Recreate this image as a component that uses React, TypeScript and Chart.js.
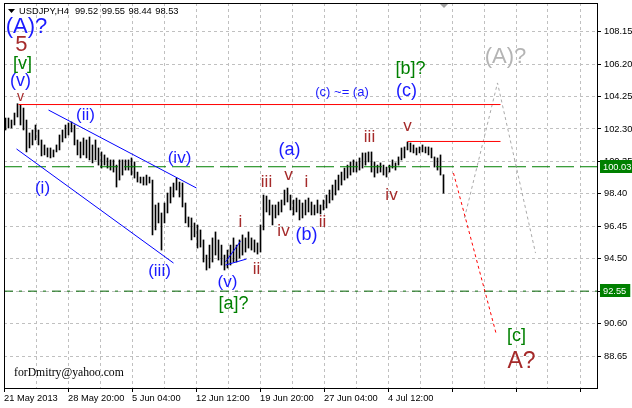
import React, { useEffect, useRef } from 'react';
import { Chart, registerables } from 'chart.js';

Chart.register(...registerables);

// ---------- data ----------
const symbolName = 'USDJPY,H4';

const barHighs: number[] = [
  102.96, 102.96, 102.84, 103.26, 103.82, 103.74, 103.56, 102.84, 102.06, 102.24,
  102.54, 102.24, 101.64, 101.34, 101.16, 101.16, 101.04, 101.34, 101.94, 102.24,
  102.54, 102.66, 102.72, 102.54, 101.64, 101.52, 101.76, 101.64, 101.82, 101.34,
  101.64, 101.16, 100.92, 100.74, 100.56, 100.44, 100.44, 100.13, 100.44, 100.44,
  100.44, 100.44, 100.56, 100.32, 99.71, 99.41, 99.41, 99.53, 99.41, 99.23,
  97.73, 97.85, 97.25, 97.85, 98.45, 98.81, 99.05, 99.35, 99.11, 99.05,
  97.85, 97.01, 96.95, 96.65, 96.53, 96.23, 95.63, 94.72, 95.32, 95.75,
  96.11, 95.63, 95.32, 94.72, 95.02, 95.32, 95.75, 95.32, 95.63, 95.93,
  95.75, 96.11, 95.75, 95.63, 95.45, 96.53, 98.33, 98.27, 98.03, 97.73,
  97.73, 97.91, 98.03, 98.63, 98.75, 98.33, 98.03, 98.15, 98.03, 97.85,
  98.03, 98.15, 97.91, 97.73, 98.03, 97.73, 98.03, 98.33, 98.63, 98.93,
  99.23, 99.53, 99.71, 99.95, 100.13, 100.32, 100.44, 100.32, 100.56, 100.86,
  100.86, 100.92, 100.92, 100.32, 100.13, 100.26, 100.13, 100.01, 100.13, 100.44,
  100.26, 100.62, 101.16, 101.22, 101.52, 101.46, 101.34, 101.16, 101.22, 101.34,
  101.22, 101.22, 101.16, 100.62, 100.56, 100.74, 99.55,
];

const barLows: number[] = [
  102.24, 102.36, 102.36, 102.54, 103.02, 102.54, 102.24, 100.92, 101.16, 101.34,
  101.64, 101.34, 100.68, 100.74, 100.62, 100.56, 100.62, 100.92, 101.04, 101.52,
  101.76, 101.94, 102.12, 101.34, 100.74, 100.56, 100.74, 100.56, 100.44, 100.26,
  100.44, 100.13, 99.95, 100.13, 99.95, 99.83, 99.71, 98.81, 99.23, 99.53,
  99.83, 99.83, 99.53, 99.35, 99.11, 99.05, 98.93, 98.93, 99.05, 95.93,
  96.23, 96.65, 95.02, 96.65, 97.25, 97.85, 98.21, 98.63, 98.21, 97.61,
  96.65, 96.41, 95.63, 95.81, 95.14, 95.2, 94.3, 93.82, 93.94, 94.3,
  94.72, 94.42, 94.12, 93.82, 93.94, 94.12, 94.3, 94.3, 94.54, 94.72,
  94.9, 95.14, 95.02, 94.9, 94.78, 94.9, 96.23, 97.31, 97.13, 96.53,
  96.95, 97.13, 97.31, 97.73, 97.91, 97.43, 97.13, 97.31, 96.83, 96.95,
  97.13, 97.31, 97.13, 97.13, 97.25, 97.19, 97.43, 97.55, 97.85, 98.03,
  98.33, 98.63, 98.93, 99.23, 99.35, 99.53, 99.71, 99.71, 99.83, 99.95,
  100.13, 100.32, 99.71, 99.41, 99.65, 99.71, 99.53, 99.41, 99.71, 99.95,
  99.83, 100.13, 100.44, 100.56, 101.04, 100.92, 100.86, 100.74, 100.86, 100.92,
  100.86, 100.74, 100.56, 100.01, 99.83, 99.53, 98.44,
];

const lastOpen = 99.52;
const lastClose = 98.53;

const priceTicks = [88.65, 90.6, 92.55, 94.5, 96.45, 98.4, 100.35, 102.3, 104.25, 106.2, 108.15];
const timeLabels = ['21 May 2013', '28 May 20:00', '5 Jun 04:00', '12 Jun 12:00', '19 Jun 20:00', '27 Jun 04:00', '4 Jul 12:00'];

const resistanceHigh = 103.77;
const resistanceLow = 101.55;
const greenLevel = 100.03;
const supportLevel = 92.55;

// trend / projection lines: [barIndex, price]
const channelUpper = [[14.33, 103.44], [63.67, 98.75]];
const channelLower = [[3.67, 101.1], [56, 94.24]];
const wedgeUpper = [[73.33, 94.3], [78.33, 95.55]];
const wedgeLower = [[73.33, 94.12], [80.33, 94.48]];
const redProjection = [[149.33, 99.65], [163.67, 89.91]];
const grayProjection = [[153, 96.95], [164, 105.07], [176.67, 94.84]];
const resistanceHighSpan = [4.33, 165];
const resistanceLowSpan = [134, 165];

const BLUE = '#1a1aff';
const BROWN = '#a52a2a';
const GREEN = '#008000';
const GRAY = '#b4b4b4';

const waveLabels = [
  { text: '(A)?', x: 7.0, y: 108.43, color: BLUE, size: 22 },
  { text: '5', x: 5.33, y: 107.35, color: BROWN, size: 22 },
  { text: '[v]', x: 5.67, y: 106.21, color: GREEN, size: 18 },
  { text: '(v)', x: 5.0, y: 105.19, color: BLUE, size: 18 },
  { text: 'v', x: 5.0, y: 104.22, color: BROWN, size: 14 },
  { text: '(i)', x: 12.33, y: 98.75, color: BLUE, size: 17 },
  { text: '(ii)', x: 26.67, y: 103.14, color: BLUE, size: 17 },
  { text: '(iii)', x: 51.33, y: 93.76, color: BLUE, size: 17 },
  { text: '(iv)', x: 58.0, y: 100.56, color: BLUE, size: 17 },
  { text: '(v)', x: 74.0, y: 93.1, color: BLUE, size: 17 },
  { text: '[a]?', x: 76.0, y: 91.78, color: GREEN, size: 18 },
  { text: 'i', x: 78.33, y: 96.71, color: BROWN, size: 17 },
  { text: 'ii', x: 83.67, y: 93.88, color: BROWN, size: 17 },
  { text: 'iii', x: 87.0, y: 99.11, color: BROWN, size: 17 },
  { text: 'v', x: 94.33, y: 99.53, color: BROWN, size: 17 },
  { text: '(a)', x: 94.67, y: 101.04, color: BLUE, size: 18 },
  { text: 'iv', x: 92.67, y: 96.17, color: BROWN, size: 17 },
  { text: '(b)', x: 100.33, y: 95.93, color: BLUE, size: 18 },
  { text: 'i', x: 100.33, y: 99.11, color: BROWN, size: 17 },
  { text: 'ii', x: 105.67, y: 96.71, color: BROWN, size: 17 },
  { text: 'iii', x: 121.33, y: 101.82, color: BROWN, size: 17 },
  { text: 'iv', x: 128.67, y: 98.33, color: BROWN, size: 17 },
  { text: 'v', x: 134.0, y: 102.48, color: BROWN, size: 17 },
  { text: '(c) ~= (a)', x: 112.17, y: 104.52, color: BLUE, size: 13 },
  { text: '[b]?', x: 135.0, y: 105.91, color: GREEN, size: 18 },
  { text: '(c)', x: 133.67, y: 104.58, color: BLUE, size: 18 },
  { text: '(A)?', x: 166.67, y: 106.63, color: GRAY, size: 22 },
  { text: '[c]', x: 170.33, y: 89.85, color: GREEN, size: 18 },
  { text: 'A?', x: 172.0, y: 88.29, color: BROWN, size: 23 },
];

const watermark = 'forDmitry@yahoo.com';

// ---------- layout constants ----------
const FONT = '"Liberation Sans", Arial, sans-serif';
const xMin = -0.5;
const visibleBars = 593 / 3;
const xMax = xMin + visibleBars;
const gridStepBars = 32 / 3;
const yMin = 86.726;
const yMax = 109.876;

const lineDs = (pts: number[][], color: string, dash: number[], order = 1) => ({
  type: 'line' as const,
  data: pts.map(([x, y]) => ({ x, y })),
  borderColor: color,
  borderWidth: 1,
  borderDash: dash,
  pointRadius: 0,
  pointHoverRadius: 0,
  fill: false,
  tension: 0,
  order,
});

const overlayPlugin = {
  id: 'mt4Overlay',
  afterDatasetsDraw(chart: any) {
    const { ctx, scales } = chart;
    const x = scales.x;
    const y = scales.y;
    ctx.save();
    ctx.textAlign = 'center';
    ctx.textBaseline = 'middle';
    for (const l of waveLabels) {
      ctx.font = `${l.size}px ${FONT}`;
      ctx.fillStyle = l.color;
      ctx.fillText(l.text, x.getPixelForValue(l.x), y.getPixelForValue(l.y));
    }
    ctx.restore();
  },
  afterDraw(chart: any) {
    const { ctx, chartArea: a, scales } = chart;
    const y = scales.y;
    ctx.save();
    // frame
    ctx.strokeStyle = '#000';
    ctx.lineWidth = 1;
    ctx.setLineDash([]);
    ctx.strokeRect(a.left + 0.5, a.top + 0.5, a.right - a.left, a.bottom - a.top);

    // price boxes on the axis
    ctx.font = `9.3px ${FONT}`;
    ctx.textAlign = 'left';
    ctx.textBaseline = 'middle';
    for (const p of [greenLevel, supportLevel]) {
      const py = Math.round(y.getPixelForValue(p));
      const txt = p.toFixed(2);
      const w = ctx.measureText(txt).width;
      ctx.fillStyle = GREEN;
      ctx.fillRect(a.right + 3, py - 7, w + 7, 13);
      ctx.fillStyle = '#fff';
      ctx.fillText(txt, a.right + 6, py);
    }

    // title
    ctx.fillStyle = '#000';
    ctx.beginPath();
    ctx.moveTo(8, 9);
    ctx.lineTo(15, 9);
    ctx.lineTo(11.5, 13);
    ctx.closePath();
    ctx.fill();
    const last = barHighs.length - 1;
    let tx = 19;
    ctx.fillText(symbolName, tx, 11);
    tx += ctx.measureText(symbolName).width + 6;
    for (const v of [lastOpen, barHighs[last], barLows[last], lastClose]) {
      const s = v.toFixed(2);
      ctx.fillText(s, tx, 11);
      tx += ctx.measureText(s).width + 3.5;
    }

    // chart shift marker
    ctx.fillStyle = '#a0a0a0';
    ctx.beginPath();
    ctx.moveTo(440, 4);
    ctx.lineTo(448, 4);
    ctx.lineTo(444, 8);
    ctx.closePath();
    ctx.fill();

    // watermark
    ctx.fillStyle = '#000';
    ctx.font = `11.7px "Liberation Serif", "Times New Roman", serif`;
    ctx.fillText(watermark, a.left + 10, 373);
    ctx.restore();
  },
};

export default function App() {
  const ref = useRef<HTMLCanvasElement>(null);
  useEffect(() => {
    document.body.style.margin = '0';
    const fullSpan = [xMin, xMax];
    const chart = new Chart(ref.current as HTMLCanvasElement, {
      type: 'bar',
      data: {
        datasets: [
          {
            type: 'bar',
            data: barHighs.map((h, i) => ({ x: i, y: [barLows[i], h] })) as any,
            backgroundColor: '#000',
            borderWidth: 0,
            barThickness: 1,
            grouped: false,
            order: 3,
          } as any,
          lineDs(fullSpan.map((x) => [x, greenLevel]), GREEN, [18, 6], 2),
          lineDs(fullSpan.map((x) => [x, supportLevel]), '#006400', [9, 6, 3, 6], 2),
          lineDs(resistanceHighSpan.map((x) => [x, resistanceHigh]), '#ff0000', []),
          lineDs(resistanceLowSpan.map((x) => [x, resistanceLow]), '#ff0000', []),
          lineDs(channelUpper, '#0000ff', []),
          lineDs(channelLower, '#0000ff', []),
          lineDs(wedgeUpper, '#0000ff', []),
          lineDs(wedgeLower, '#0000ff', []),
          lineDs(redProjection, '#ff0000', [3, 3]),
          lineDs(grayProjection, '#a9a9a9', [3, 3]),
        ],
      },
      options: {
        responsive: false,
        devicePixelRatio: 1,
        animation: false,
        events: [],
        layout: { padding: { left: 4, top: 3, right: 0, bottom: 0 } },
        plugins: { legend: { display: false }, tooltip: { enabled: false } },
        scales: {
          x: {
            type: 'linear',
            min: xMin,
            max: xMax,
            offset: false,
            bounds: 'data',
            afterBuildTicks: (axis: any) => {
              const t = [];
              for (let k = 0; xMin + k * gridStepBars <= xMax; k++) t.push({ value: xMin + k * gridStepBars });
              axis.ticks = t;
            },
            afterFit: (axis: any) => {
              axis.height = 20;
              axis.paddingLeft = 0;
              axis.paddingRight = 0;
            },
            grid: {
              offset: false,
              color: '#c0c0c0',
              lineWidth: 1,
              tickLength: 4,
              tickColor: (c: any) => (c.index % 2 === 0 ? '#000' : 'rgba(0,0,0,0)'),
            },
            border: { display: false, dash: [3, 3] },
            ticks: {
              align: 'start',
              maxRotation: 0,
              minRotation: 0,
              autoSkip: false,
              padding: 1,
              color: '#000',
              font: { family: FONT, size: 9.3 },
              callback: (_v: any, i: number) => (i % 2 === 0 ? timeLabels[i / 2] ?? '' : ''),
            },
          },
          y: {
            type: 'linear',
            position: 'right',
            min: yMin,
            max: yMax,
            bounds: 'data',
            afterBuildTicks: (axis: any) => {
              axis.ticks = priceTicks.map((v) => ({ value: v }));
            },
            afterFit: (axis: any) => {
              axis.width = 35;
              axis.paddingTop = 0;
              axis.paddingBottom = 0;
            },
            grid: { color: '#c0c0c0', lineWidth: 1, tickLength: 4, tickColor: '#000' },
            border: { display: false, dash: [3, 3] },
            ticks: {
              autoSkip: false,
              padding: 3,
              color: '#000',
              font: { family: FONT, size: 9.3 },
              callback: (v: any) => Number(v).toFixed(2),
            },
          },
        },
      } as any,
      plugins: [overlayPlugin],
    });
    return () => chart.destroy();
  }, []);
  return (
    <div style={{ width: 632, height: 408 }}>
      <canvas ref={ref} width={632} height={408} style={{ display: 'block' }} />
    </div>
  );
}
